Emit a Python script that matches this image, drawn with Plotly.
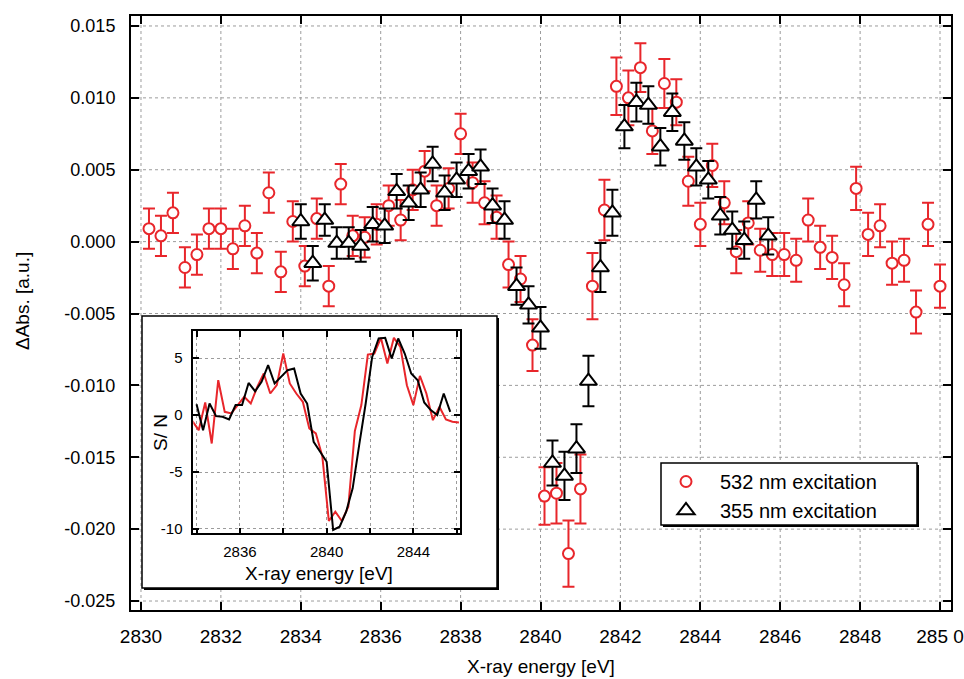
import plotly.graph_objects as go

# ---------------- data ----------------
# 532 nm pump: X-ray energy [eV], ΔAbs [a.u.], 1σ error
energy_532 = [2830.2, 2830.5, 2830.8, 2831.1, 2831.4, 2831.7, 2832.0, 2832.3, 2832.6, 2832.9,
              2833.2, 2833.5, 2833.8, 2834.1, 2834.4, 2834.7, 2835.0, 2835.3, 2835.6, 2835.9,
              2836.2, 2836.5, 2836.8, 2837.1, 2837.4, 2837.7, 2838.0, 2838.3, 2838.6, 2838.9,
              2839.2, 2839.5, 2839.8, 2840.1, 2840.4, 2840.7, 2841.0, 2841.3, 2841.6, 2841.9,
              2842.2, 2842.5, 2842.8, 2843.1, 2843.4, 2843.7, 2844.0, 2844.3, 2844.6, 2844.9,
              2845.2, 2845.5, 2845.8, 2846.1, 2846.4, 2846.7, 2847.0, 2847.3, 2847.6, 2847.9,
              2848.2, 2848.5, 2848.8, 2849.1, 2849.4, 2849.7, 2850.0]
dabs_532 = [0.0009, 0.0004, 0.0020, -0.0018, -0.0009, 0.0009, 0.0009, -0.0005, 0.0011, -0.0008,
            0.0034, -0.0021, 0.0014, -0.0017, 0.0016, -0.0031, 0.0040, 0.0004, 0.0003, 0.0012,
            0.0025, 0.0015, 0.0036, 0.0049, 0.0025, 0.0037, 0.0075, 0.0041, 0.0027, 0.0017,
            -0.0016, -0.0026, -0.0072, -0.0177, -0.0175, -0.0217, -0.0172, -0.0031, 0.0022, 0.0108,
            0.0100, 0.0121, 0.0077, 0.0110, 0.0097, 0.0042, 0.0012, 0.0053, 0.0027, -0.0007,
            0.0013, -0.0006, -0.0009, -0.0009, -0.0013, 0.0015, -0.0004, -0.0011, -0.0030, 0.0037,
            0.0005, 0.0011, -0.0015, -0.0013, -0.0049, 0.0012, -0.0031]
err_532 = [0.0014, 0.0014, 0.0014, 0.0014, 0.0014, 0.0014, 0.0014, 0.0014, 0.0014, 0.0014,
           0.0014, 0.0014, 0.0014, 0.0014, 0.0014, 0.0014, 0.0014, 0.0014, 0.0014, 0.0014,
           0.0014, 0.0014, 0.0014, 0.0014, 0.0014, 0.0014, 0.0014, 0.0014, 0.0015, 0.0015,
           0.0016, 0.0016, 0.0018, 0.0020, 0.0021, 0.0023, 0.0024, 0.0023, 0.0021, 0.0020,
           0.0019, 0.0017, 0.0016, 0.0017, 0.0016, 0.0017, 0.0015, 0.0015, 0.0015, 0.0015,
           0.0015, 0.0015, 0.0015, 0.0015, 0.0015, 0.0015, 0.0015, 0.0015, 0.0015, 0.0015,
           0.0015, 0.0015, 0.0015, 0.0015, 0.0015, 0.0015, 0.0015]

# 355 nm pump
energy_355 = [2834.0, 2834.3, 2834.6, 2834.9, 2835.2, 2835.5, 2835.8, 2836.1, 2836.4, 2836.7,
              2837.0, 2837.3, 2837.6, 2837.9, 2838.2, 2838.5, 2838.8, 2839.1, 2839.4, 2839.7,
              2840.0, 2840.3, 2840.6, 2840.9, 2841.2, 2841.5, 2841.8, 2842.1, 2842.4, 2842.7,
              2843.0, 2843.3, 2843.6, 2843.9, 2844.2, 2844.5, 2844.8, 2845.1, 2845.4, 2845.7]
dabs_355 = [0.0014, -0.0015, 0.0015, -0.0001, -0.0001, -0.0003, 0.0012, 0.0011, 0.0035, 0.0027,
            0.0036, 0.0054, 0.0034, 0.0043, 0.0049, 0.0052, 0.0025, 0.0015, -0.0031, -0.0044,
            -0.0060, -0.0154, -0.0163, -0.0144, -0.0097, -0.0018, 0.0020, 0.0080, 0.0097, 0.0095,
            0.0066, 0.0090, 0.0070, 0.0052, 0.0043, 0.0018, 0.0008, 0.0001, 0.0029, 0.0004]
err_355 = [0.0012, 0.0012, 0.0011, 0.0011, 0.0011, 0.0011, 0.0012, 0.0012, 0.0012, 0.0012,
           0.0012, 0.0012, 0.0012, 0.0012, 0.0012, 0.0012, 0.0012, 0.0013, 0.0013, 0.0013,
           0.00146, 0.00156, 0.00168, 0.0017, 0.00176, 0.0017, 0.0016, 0.0015, 0.00135, 0.0013,
           0.0013, 0.0013, 0.0013, 0.0013, 0.0013, 0.0013, 0.0013, 0.0013, 0.0013, 0.0013]

# inset: signal-to-noise traces
sn_energy_532 = [2833.8, 2834.1, 2834.4, 2834.7, 2835.0, 2835.3, 2835.6, 2835.9, 2836.2, 2836.5,
                 2836.8, 2837.1, 2837.4, 2837.7, 2838.0, 2838.3, 2838.6, 2838.9, 2839.2, 2839.5,
                 2839.8, 2840.1, 2840.4, 2840.7, 2841.0, 2841.3, 2841.6, 2841.9, 2842.2, 2842.5,
                 2842.8, 2843.1, 2843.4, 2843.7, 2844.0, 2844.3, 2844.6, 2844.9, 2845.2, 2845.5,
                 2845.8, 2846.1]
sn_532 = [-0.5, -1.32, 1.11, -2.49, 3.07, 0.29, 0.15, 0.88, 1.61, 1.02,
          2.49, 3.66, 1.9, 2.63, 5.41, 2.78, 1.9, 1.17, -1.17, -1.6,
          -3.6, -9.3, -8.48, -9.3, -8.04, -1.4, 0.88, 5.32, 5.41, 6.79,
          4.53, 6.79, 5.99, 2.63, 0.88, 3.45, 1.9, -0.44, 0.73, -0.38,
          -0.58, -0.64]
sn_energy_355 = energy_355
sn_355 = [0.96, -1.32, 1.02, -0.09, -0.15, -0.38, 0.88, 0.88, 2.83, 2.1,
          2.92, 4.39, 2.78, 3.36, 3.95, 4.1, 1.9, 1.02, -2.34, -3.22,
          -4.1, -10.09, -9.8, -8.48, -6.43, -2.63, 1.02, 5.11, 6.73, 6.79,
          4.97, 6.73, 5.41, 3.66, 3.07, 1.11, 0.44, 0.0, 1.9, 0.29]

# tick values and labels
x_ticks = [2830, 2832, 2834, 2836, 2838, 2840, 2842, 2844, 2846, 2848, 2850]
x_ticklabels = ["2830", "2832", "2834", "2836", "2838", "2840", "2842", "2844", "2846", "2848", "285 0"]
y_ticks = [-0.025, -0.020, -0.015, -0.010, -0.005, 0.0, 0.005, 0.010, 0.015]
y_ticklabels = ["-0.025", "-0.020", "-0.015", "-0.010", "-0.005", "0.000", "0.005", "0.010", "0.015"]
inset_y_ticks = [-10, -5, 0, 5]
inset_y_ticklabels = ["-10", "-5", "0", "5"]

# ---------------- styling / geometry ----------------
RED = "#e8262b"
BLACK = "#000000"
GRID = "#9c9c9c"
FONT = "Liberation Sans, Arial, Helvetica, sans-serif"

W, H = 964, 679
ML, MR, MT, MB = 131, 13, 16, 69
PW, PH = W - ML - MR, H - MT - MB


def fx(px):
    """pixel column -> paper x"""
    return (px - ML) / PW


def fy(py):
    """pixel row -> paper y"""
    return (H - MB - py) / PH


fig = go.Figure()

fig.add_trace(go.Scatter(
    x=energy_532, y=dabs_532, mode="markers", name="532 nm excitation",
    marker=dict(symbol="circle", size=11, color="white", line=dict(color=RED, width=2)),
    error_y=dict(type="data", array=err_532, color=RED, thickness=2, width=6),
    xaxis="x", yaxis="y"))

fig.add_trace(go.Scatter(
    x=energy_355, y=dabs_355, mode="markers", name="355 nm excitation",
    marker=dict(symbol="triangle-up", size=15, color="white", line=dict(color=BLACK, width=2)),
    error_y=dict(type="data", array=err_355, color=BLACK, thickness=2, width=6),
    xaxis="x", yaxis="y"))

fig.add_trace(go.Scatter(
    x=sn_energy_532, y=sn_532, mode="lines", showlegend=False,
    line=dict(color=RED, width=2), xaxis="x2", yaxis="y2"))

fig.add_trace(go.Scatter(
    x=sn_energy_355, y=sn_355, mode="lines", showlegend=False,
    line=dict(color=BLACK, width=2), xaxis="x2", yaxis="y2"))

shapes = []
# dotted grid of the main panel (drawn as shapes so the inset box can hide it)
for xv in x_ticks:
    shapes.append(dict(type="line", xref="x", yref="paper", x0=xv, x1=xv, y0=0, y1=1,
                       line=dict(color=GRID, width=1, dash="dot"), layer="below"))
for yv in y_ticks:
    shapes.append(dict(type="line", xref="paper", yref="y", x0=0, x1=1, y0=yv, y1=yv,
                       line=dict(color=GRID, width=1, dash="dot"), layer="below"))

# inset frame with drop shadow
box_l, box_r, box_t, box_b = 142, 497, 316, 588
shapes.append(dict(type="rect", xref="paper", yref="paper",
                   x0=fx(box_l + 2), x1=fx(box_r + 2), y0=fy(box_b + 2), y1=fy(box_t + 2),
                   fillcolor=BLACK, line=dict(width=0), layer="below"))
shapes.append(dict(type="rect", xref="paper", yref="paper",
                   x0=fx(box_l), x1=fx(box_r), y0=fy(box_b), y1=fy(box_t),
                   fillcolor="white", line=dict(color=BLACK, width=1.5), layer="below"))

# legend frame with drop shadow
lg_l, lg_r, lg_t, lg_b = 661, 917, 463, 525
shapes.append(dict(type="rect", xref="paper", yref="paper",
                   x0=fx(lg_l + 2), x1=fx(lg_r + 2), y0=fy(lg_b + 2), y1=fy(lg_t + 2),
                   fillcolor=BLACK, line=dict(width=0), layer="above"))
shapes.append(dict(type="rect", xref="paper", yref="paper",
                   x0=fx(lg_l), x1=fx(lg_r), y0=fy(lg_b), y1=fy(lg_t),
                   fillcolor="white", line=dict(color=BLACK, width=1.5), layer="above"))

axis_common = dict(showline=True, linecolor=BLACK, mirror="ticks", ticks="inside",
                   tickcolor=BLACK, showgrid=False, zeroline=False, automargin=False)

fig.update_layout(
    width=W, height=H,
    margin=dict(l=ML, r=MR, t=MT, b=MB, pad=0, autoexpand=False),
    paper_bgcolor="white", plot_bgcolor="white",
    font=dict(family=FONT, color=BLACK, size=18),
    xaxis=dict(axis_common, range=[2829.75, 2850.275], tickmode="array",
               tickvals=x_ticks, ticktext=x_ticklabels, ticklen=8, tickwidth=1.5,
               linewidth=2, tickfont=dict(size=19), ticklabelstandoff=8),
    yaxis=dict(axis_common, range=[-0.025625, 0.015694], tickmode="array",
               tickvals=y_ticks, ticktext=y_ticklabels, ticklen=8, tickwidth=1.5,
               linewidth=2, tickfont=dict(size=18), ticklabelstandoff=10),
    xaxis2=dict(axis_common, domain=[fx(193.3), fx(460)], anchor="y2",
                range=[2833.85, 2846.15], tickmode="linear", tick0=2836, dtick=4,
                ticklen=6, tickwidth=1.5, linewidth=1.5, tickfont=dict(size=15),
                showgrid=True, gridcolor=GRID, griddash="dot", gridwidth=1,
                minor=dict(tick0=2834, dtick=2, ticks="inside", ticklen=6, tickwidth=1.5,
                           tickcolor=BLACK, showgrid=True, gridcolor=GRID, griddash="dot"),
                ticklabelstandoff=4),
    yaxis2=dict(axis_common, domain=[fy(533.3), fy(331)], anchor="x2",
                range=[-10.38, 7.39], tickmode="array", tickvals=inset_y_ticks,
                ticktext=inset_y_ticklabels, ticklen=6, tickwidth=1.5, linewidth=1.5,
                tickfont=dict(size=15), showgrid=True, gridcolor=GRID, griddash="dot",
                gridwidth=1, ticklabelstandoff=6),
    shapes=shapes,
    showlegend=True,
    legend=dict(x=fx(652), y=fy(462), xanchor="left", yanchor="top",
                bgcolor="rgba(0,0,0,0)", borderwidth=0, font=dict(size=20),
                itemwidth=58, tracegroupgap=0),
    annotations=[
        dict(text="ΔAbs. [a.u.]", xref="paper", yref="paper", x=fx(22), y=fy(301),
             xanchor="center", yanchor="middle", textangle=-90, showarrow=False,
             font=dict(size=19)),
        dict(text="X-ray energy [eV]", xref="paper", yref="paper", x=fx(541), y=fy(666),
             xanchor="center", yanchor="middle", showarrow=False, font=dict(size=19)),
        dict(text="X-ray energy [eV]", xref="paper", yref="paper", x=fx(319), y=fy(573),
             xanchor="center", yanchor="middle", showarrow=False, font=dict(size=19)),
        dict(text="S/ N", xref="paper", yref="paper", x=fx(160), y=fy(433),
             xanchor="center", yanchor="middle", textangle=-90, showarrow=False,
             font=dict(size=19)),
    ],
)

fig.write_html("out.html")
